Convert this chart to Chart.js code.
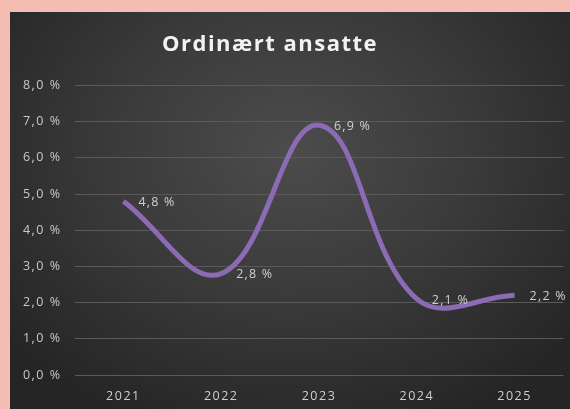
<!DOCTYPE html>
<html>
<head>
<meta charset="utf-8">
<script src="https://cdn.jsdelivr.net/npm/chart.js@4"></script>
<style>
  html, body { margin: 0; padding: 0; }
  body { width: 570px; height: 409px; background: #f5bcb2; position: relative; overflow: hidden; }
  #box {
    position: absolute; left: 10px; top: 12px; width: 560px; height: 397px;
    background: radial-gradient(ellipse 65% 75% at 50% 35%, #4c4c4c 0%, #3a3a3a 50%, #252525 100%);
  }
</style>
</head>
<body>
<div id="box"><canvas id="lineChart" width="560" height="397"></canvas></div>
<script>
const years = ['2021', '2022', '2023', '2024', '2025'];
const ansatte = [4.8, 2.8, 6.9, 2.1, 2.2];
const tickLabels = ['0,0 %', '1,0 %', '2,0 %', '3,0 %', '4,0 %', '5,0 %', '6,0 %', '7,0 %', '8,0 %'];

const pct = v => v.toFixed(1).replace('.', ',') + ' %';

// excel style spaced text for title + ticks
const spacing = {
  id: 'spacing',
  afterLayout(chart) {
    // title sits a bit left of the middle in the original
    if (chart.titleBlock) chart.titleBlock.right = chart.titleBlock.left + 520;
  },
  beforeDraw(chart) { chart.ctx.letterSpacing = '1.5px'; },
  beforeDatasetsDraw(chart) { chart.ctx.letterSpacing = '0px'; }
};

// value labels to the right of each point
const pointLabels = {
  id: 'pointLabels',
  afterDatasetsDraw(chart) {
    const ctx = chart.ctx;
    const meta = chart.getDatasetMeta(0);
    ctx.save();
    ctx.letterSpacing = '1.2px';
    ctx.font = '12.5px "Open Sans"';
    ctx.fillStyle = '#d0d0d0';
    ctx.textAlign = 'left';
    ctx.textBaseline = 'middle';
    meta.data.forEach((pt, i) => {
      ctx.fillText(pct(ansatte[i]), pt.x + 15, pt.y + 1);
    });
    ctx.restore();
  }
};

let ctx = document.getElementById('lineChart').getContext('2d');
let myLineChart = new Chart(ctx, {
  type: 'line',
  data: {
    labels: years,
    datasets: [{
      label: 'Ordinært ansatte',
      data: ansatte,
      borderColor: '#8a6bb4',
      borderWidth: 5,
      tension: 0.4,
      pointRadius: 0,
      fill: false
    }]
  },
  options: {
    responsive: false,
    animation: false,
    layout: { padding: { top: 0, right: 6.5, bottom: 0, left: 0 } },
    plugins: {
      legend: { display: false },
      tooltip: { enabled: false },
      title: {
        display: true,
        text: 'Ordinært ansatte',
        color: '#f2f2f2',
        font: { family: '"Open Sans"', size: 22, weight: 'bold' },
        padding: { top: 20, bottom: 27 }
      }
    },
    scales: {
      x: {
        offset: true,
        afterFit(axis) { axis.height = 34; },
        grid: { display: false, drawTicks: false },
        border: { display: false },
        ticks: { color: '#cfcfcf', font: { family: '"Open Sans"', size: 12.5 }, padding: 14 }
      },
      y: {
        min: 0,
        max: 8,
        afterFit(axis) { axis.width = 64.5; },
        grid: { color: '#5a5a5a', lineWidth: 1, drawTicks: false },
        border: { display: false },
        ticks: {
          stepSize: 1,
          color: '#c8c8c8',
          font: { family: '"Open Sans"', size: 12.5 },
          padding: 13,
          callback: (v) => tickLabels[v]
        }
      }
    }
  },
  plugins: [spacing, pointLabels]
});
</script>
</body>
</html>
